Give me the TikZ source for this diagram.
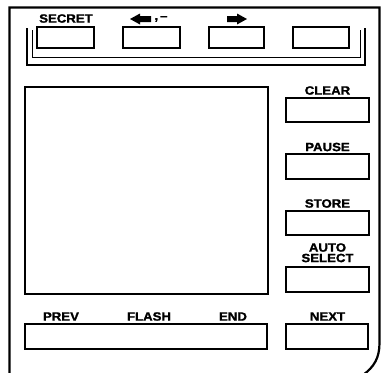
\documentclass[tikz,border=0pt]{standalone}
\usepackage{fontspec}
\newfontfamily\keyfont{Liberation Sans}[FakeStretch=1.1,FakeBold=1.5]
\begin{document}
\begin{tikzpicture}[x=1pt,y=-1pt,
  keybox/.style={draw,line width=1.2pt},
  keylabel/.style={font=\keyfont\bfseries\fontsize{12}{13}\selectfont,inner sep=0pt,anchor=center},
  frame/.style={line width=2.2pt},
  blockarrow/.style={fill=black}]
\useasboundingbox (0,0) rectangle (384,373);
% outer housing
\draw[frame] (9.5,374) -- (9.5,7.5) -- (379.5,7.5) -- (379.5,343)
  .. controls (379.5,358) and (374,367) .. (363,375);
% bracket
\draw[line width=1.2pt] (27,28) -- (27,65) -- (365,65) -- (365,28);
\draw[line width=0.6pt] (32,30) -- (32,57) -- (360,57) -- (360,30);
% top keys
\draw[keybox] (37,27) rectangle (94,48);
\draw[keybox] (123,27) rectangle (180,48);
\draw[keybox] (209,27) rectangle (264,48);
\draw[keybox] (293,27) rectangle (349,48);
\node[keylabel] (secret) at (66,18.5) {SECRET};
\fill[blockarrow] (130,19) -- (140,13.5) -- (140,16) -- (151,16) -- (151,22) -- (140,22) -- (140,24.5) -- cycle;
\node[keylabel] (back) at (161,19) {,\,–};
\fill[blockarrow] (247,19) -- (237,13.5) -- (237,16) -- (227,16) -- (227,22) -- (237,22) -- (237,24.5) -- cycle;
% screen
\draw[line width=1.5pt] (25,87) rectangle (268,294);
% right keys
\draw[keybox] (286,98) rectangle (369,122);
\node[keylabel] (clear) at (327.5,90.5) {CLEAR};
\draw[keybox] (286,154) rectangle (369,179);
\node[keylabel] (pause) at (327.5,147) {PAUSE};
\draw[keybox] (286,211) rectangle (369,235);
\node[keylabel] (store) at (327.5,203.5) {STORE};
\draw[keybox] (286,267) rectangle (369,292);
\node[keylabel] (auto) at (327.5,247.5) {AUTO};
\node[keylabel] (select) at (327.5,258) {SELECT};
\draw[keybox] (286,324) rectangle (368,349);
\node[keylabel] (next) at (327.5,316.5) {NEXT};
% bottom wide key
\draw[keybox] (25,324) rectangle (267,349);
\node[keylabel] (prev) at (61,316.5) {PREV};
\node[keylabel] (flash) at (149,316.5) {FLASH};
\node[keylabel] (end) at (233,316.5) {END};
\end{tikzpicture}
\end{document}
